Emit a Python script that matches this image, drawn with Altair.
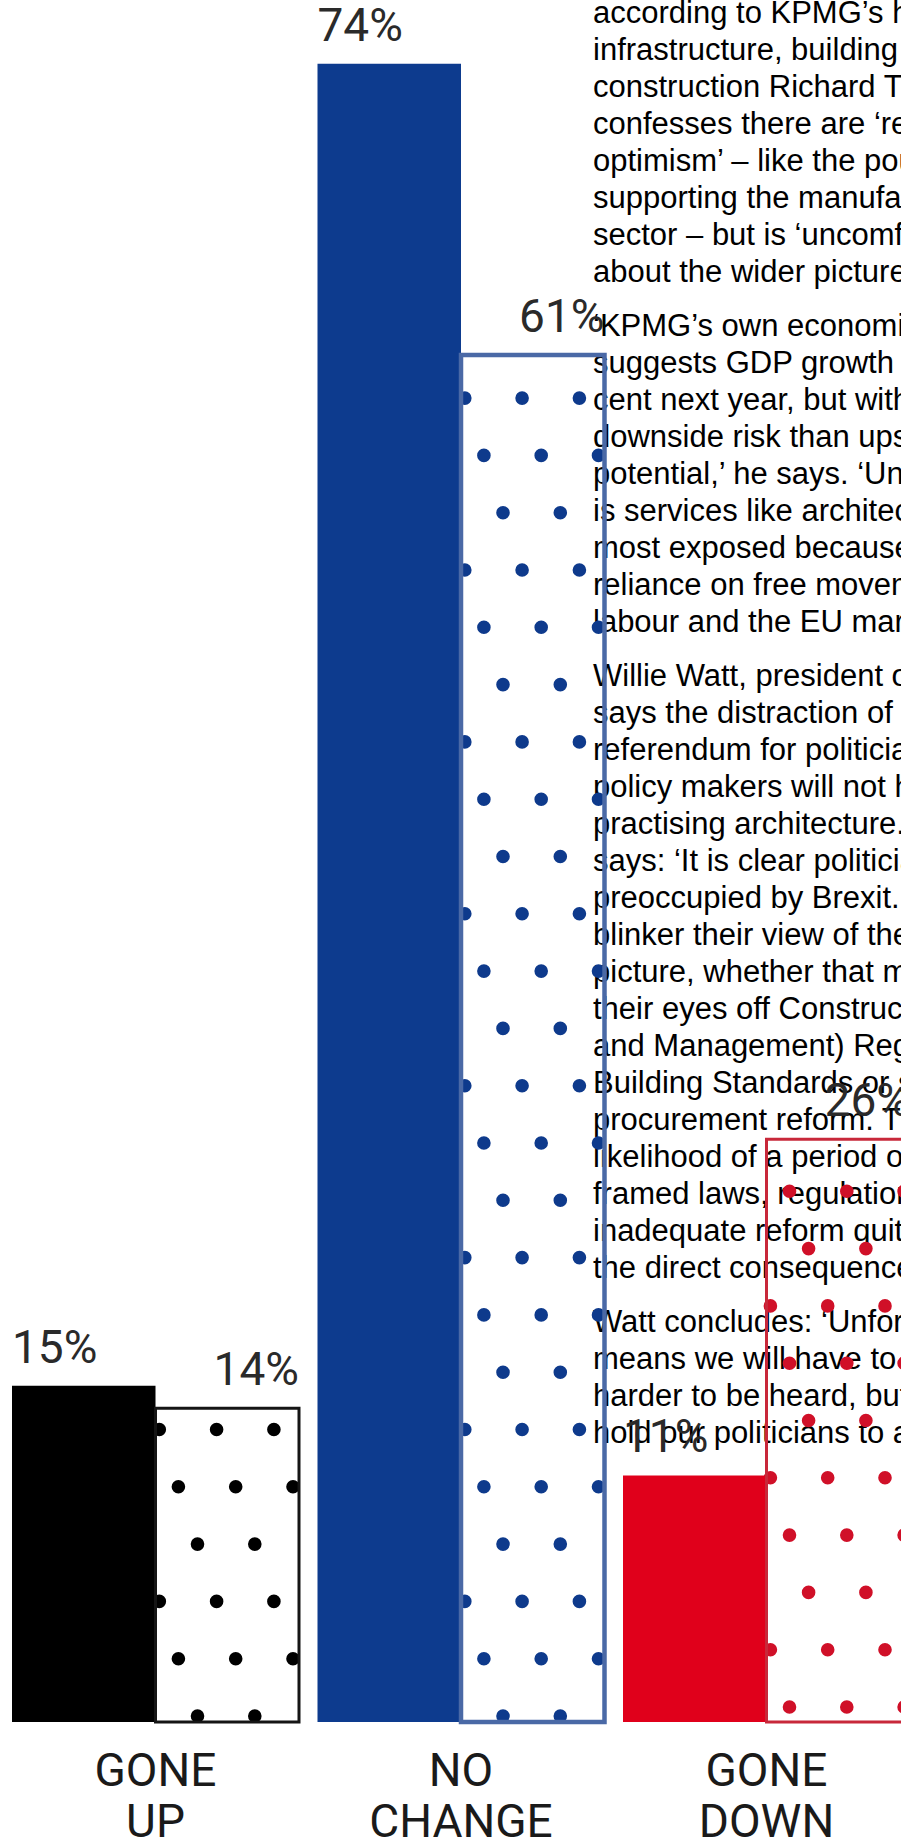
import altair as alt
import pandas as pd
import numpy as np

# ---------------- data ----------------
categories = ["GONE\nUP", "NO\nCHANGE", "GONE\nDOWN"]
solid_values = [15, 74, 11]      # solid bars (%)
dotted_values = [14, 61, 26]     # dotted bars (%)

article_paragraphs = [
    ["according to KPMG\u2019s head of",
     "infrastructure, building and",
     "construction Richard Threlfall, who",
     "confesses there are \u2018reasons for",
     "optimism\u2019 \u2013 like the pound\u2019s fall",
     "supporting the manufacturing",
     "sector \u2013 but is \u2018uncomfortable\u2019",
     "about the wider picture."],
    ["\u2018KPMG\u2019s own economic forecast",
     "suggests GDP growth of",
     "cent next year, but with more",
     "downside risk than upside",
     "potential,\u2019 he says. \u2018Unfortunately",
     "is services like architecture",
     "most exposed because of their",
     "reliance on free movement of",
     "labour and the EU market.\u2019"],
    ["Willie Watt, president of the",
     "says the distraction of the",
     "referendum for politicians and",
     "policy makers will not help",
     "practising architecture. He",
     "says: \u2018It is clear politicians are",
     "preoccupied by Brexit. This will",
     "blinker their view of the wider",
     "picture, whether that means",
     "their eyes off Construction",
     "and Management) Regulations,",
     "Building Standards or serious",
     "procurement reform. The",
     "likelihood of a period of poorly",
     "framed laws, regulations and",
     "inadequate reform quite",
     "the direct consequence of"],
    ["Watt concludes: \u2018Unfortunately",
     "means we will have to work",
     "harder to be heard, but we",
     "hold our politicians to account.\u2019"],
]

# ---------------- layout / style ----------------
W, H = 901, 1837
BASE_PX = 1722          # pixel row of 0 %
PX_PER_PCT = 22.41
X0, STEP, BW = 12, 305.5, 143.5
solid_colors = ["#000000", "#0d3b8e", "#e0001b"]
outline_colors = ["#151515", "#4a69a6", "#c8283a"]
outline_widths = [3, 4.5, 3]
dot_colors = ["#000000", "#0e3a8c", "#d01028"]
dot_anchor_px = [1716, 1716, 1707]
dot_phase_px = [42, 42, 23]
DOT_DX, DOT_SHIFT, DOT_DY = 57.3, 19.1, 57.3
LABEL_FONT = "Roboto, Liberation Sans Narrow, sans-serif"
TEXT_FONT = "Liberation Sans, Arial, sans-serif"

y_scale = alt.Scale(domain=[-(H - BASE_PX) / PX_PER_PCT, BASE_PX / PX_PER_PCT], nice=False, zero=False)
x_scale = alt.Scale(domain=[0, W], nice=False, zero=False)

rows = []
for i, cat in enumerate(categories):
    left = X0 + i * STEP
    rows.append(dict(cat=cat, kind="solid", x0=left, x1=left + BW, value=solid_values[i],
                     base=0, fill=solid_colors[i], stroke=outline_colors[i], sw=outline_widths[i],
                     label=f"{solid_values[i]}%"))
    rows.append(dict(cat=cat, kind="dotted", x0=left + BW, x1=left + 2 * BW, value=dotted_values[i],
                     base=0, fill=solid_colors[i], stroke=outline_colors[i], sw=outline_widths[i],
                     label=f"{dotted_values[i]}%"))
bars = pd.DataFrame(rows)
solid = bars[bars.kind == "solid"]
dotted = bars[bars.kind == "dotted"]

# dot texture inside the dotted bars (decoration derived from the bar extents)
dots = []
for i, (_, b) in enumerate(dotted.iterrows()):
    top_px = BASE_PX - b.value * PX_PER_PCT
    r = 0
    while True:
        py = dot_anchor_px[i] - r * DOT_DY
        if py < top_px + 8:
            break
        off = (dot_phase_px[i] - r * DOT_SHIFT) % DOT_DX
        xo = off
        while xo < BW - 2:
            dots.append(dict(x=b.x0 + xo, y=(BASE_PX - py) / PX_PER_PCT, color=dot_colors[i]))
            xo += DOT_DX
        r += 1
dots = pd.DataFrame(dots)

lines = []
idx = 0
for p, para in enumerate(article_paragraphs):
    for ln in para:
        lines.append(dict(line=ln, px=593, py=23 + idx * 37 + p * 17))
        idx += 1
article = pd.DataFrame(lines)

cats = pd.DataFrame(dict(cat=categories, x=[X0 + i * STEP + BW for i in range(len(categories))],
                         py=[1786] * len(categories)))

# ---------------- layers ----------------
text_layer = alt.Chart(article).mark_text(
    align="left", baseline="alphabetic", font=TEXT_FONT, fontSize=31, color="#000000"
).encode(x=alt.X("px:Q", scale=None), y=alt.Y("py:Q", scale=None), text="line:N")

dot_layer = alt.Chart(dots).mark_point(shape="circle", filled=True, size=185, opacity=1).encode(
    x=alt.X("x:Q", scale=x_scale, axis=None),
    y=alt.Y("y:Q", scale=y_scale, axis=None),
    color=alt.Color("color:N", scale=None),
)

solid_layer = alt.Chart(solid).mark_rect().encode(
    x=alt.X("x0:Q", scale=x_scale, axis=None), x2="x1:Q",
    y=alt.Y("value:Q", scale=y_scale, axis=None), y2="base:Q",
    color=alt.Color("fill:N", scale=None),
)

outline_layer = alt.Chart(dotted).mark_rect(fillOpacity=0).encode(
    x=alt.X("x0:Q", scale=x_scale, axis=None), x2="x1:Q",
    y=alt.Y("value:Q", scale=y_scale, axis=None), y2="base:Q",
    stroke=alt.Stroke("stroke:N", scale=None),
    strokeWidth=alt.StrokeWidth("sw:Q", scale=None),
)

solid_labels = alt.Chart(solid).mark_text(
    align="left", baseline="alphabetic", dy=-23, font=LABEL_FONT, fontSize=46, color="#2a2a2a"
).encode(x=alt.X("x0:Q", scale=x_scale, axis=None), y=alt.Y("value:Q", scale=y_scale, axis=None), text="label:N")

dotted_labels = alt.Chart(dotted).mark_text(
    align="right", baseline="alphabetic", dy=-23, font=LABEL_FONT, fontSize=46, color="#2a2a2a"
).encode(x=alt.X("x1:Q", scale=x_scale, axis=None), y=alt.Y("value:Q", scale=y_scale, axis=None), text="label:N")

cat_labels = alt.Chart(cats).mark_text(
    align="center", baseline="alphabetic", lineBreak="\n", lineHeight=51,
    font=LABEL_FONT, fontSize=46, color="#1a1a1a"
).encode(x=alt.X("x:Q", scale=x_scale, axis=None), y=alt.Y("py:Q", scale=None), text="cat:N")

chart = alt.layer(
    text_layer, dot_layer, solid_layer, outline_layer, solid_labels, dotted_labels, cat_labels
).properties(
    width=W, height=H, padding=0, background="#ffffff",
    autosize=alt.AutoSizeParams(type="none"),
).configure_view(stroke=None)

chart.save("out.html", embed_options={"renderer": "svg", "actions": False})
